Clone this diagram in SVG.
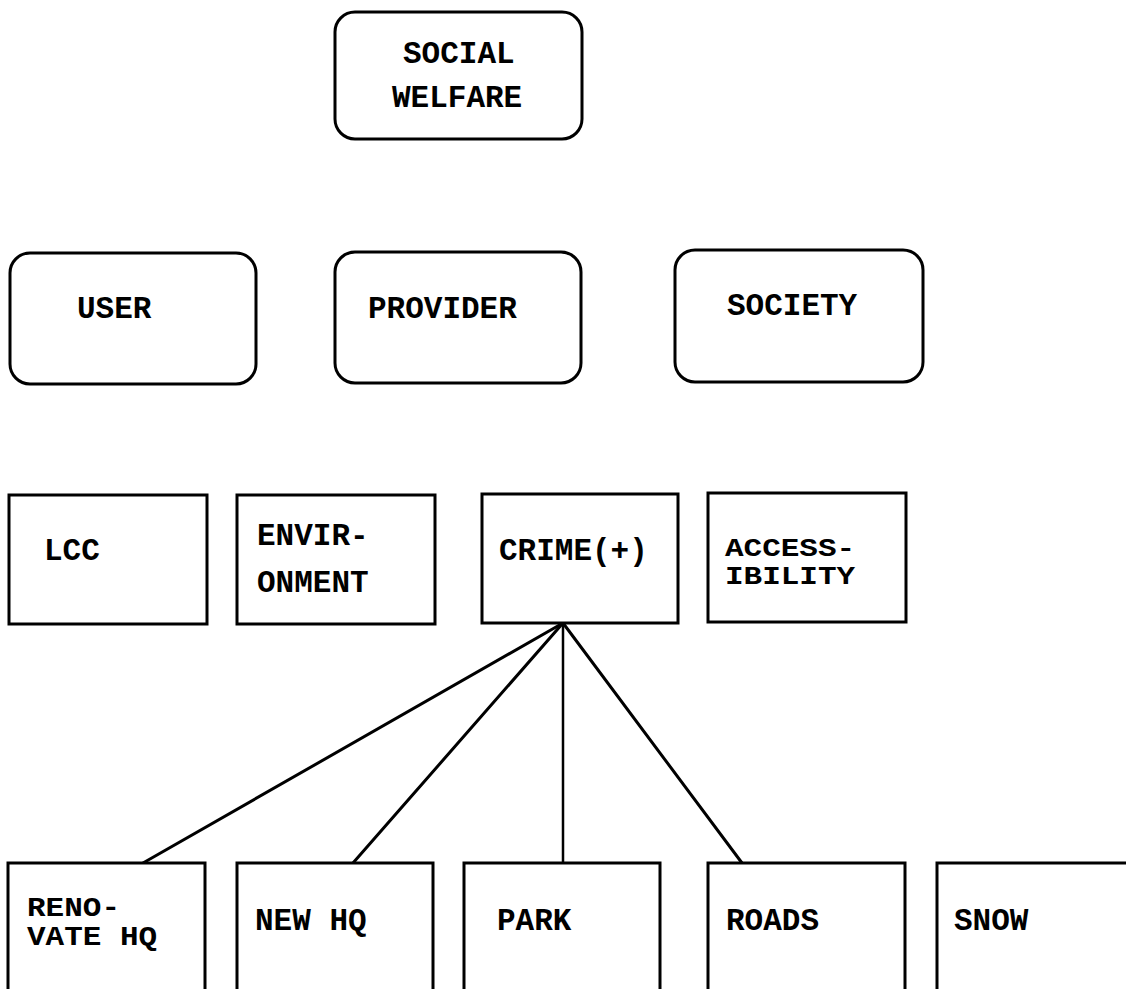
<svg xmlns="http://www.w3.org/2000/svg" width="1126" height="989" viewBox="0 0 1126 989">
  <style>
    .box { fill: #fff; stroke: #000; stroke-width: 3; }
    .lbl { font-family: "Liberation Mono", "Courier New", monospace; font-weight: bold; font-size: 31px; fill: #000; }
    .edge { stroke: #000; stroke-width: 3; fill: none; stroke-linecap: round; }
  </style>
  <rect width="1126" height="989" fill="#fff"/>

  <!-- connectors: CRIME(+) to its options -->
  <g id="connectors">
    <line class="edge" x1="563" y1="623" x2="143" y2="863"/>
    <line class="edge" x1="563" y1="623" x2="353" y2="863"/>
    <line class="edge" x1="563" y1="623" x2="563" y2="863" style="stroke-width:2.5"/>
    <line class="edge" x1="563" y1="623" x2="742" y2="863"/>
  </g>

  <!-- top goal -->
  <g id="social-welfare">
    <rect class="box" x="335" y="12" width="247" height="127" rx="20"/>
    <text class="lbl" x="403" y="63">SOCIAL</text>
    <text class="lbl" x="392" y="107">WELFARE</text>
  </g>

  <!-- stakeholder level -->
  <g id="user">
    <rect class="box" x="10" y="253" width="246" height="131" rx="20"/>
    <text class="lbl" x="77" y="318">USER</text>
  </g>
  <g id="provider">
    <rect class="box" x="335" y="252" width="246" height="131" rx="20"/>
    <text class="lbl" x="368" y="318">PROVIDER</text>
  </g>
  <g id="society">
    <rect class="box" x="675" y="250" width="248" height="132" rx="20"/>
    <text class="lbl" x="727" y="315">SOCIETY</text>
  </g>

  <!-- criteria level -->
  <g id="lcc">
    <rect class="box" x="9" y="495" width="198" height="129"/>
    <text class="lbl" x="44" y="560">LCC</text>
  </g>
  <g id="environment">
    <rect class="box" x="237" y="495" width="198" height="129"/>
    <text class="lbl" x="257" y="545">ENVIR-</text>
    <text class="lbl" x="257" y="592">ONMENT</text>
  </g>
  <g id="crime">
    <rect class="box" x="482" y="494" width="196" height="129"/>
    <text class="lbl" x="499" y="560">CRIME(+)</text>
  </g>
  <g id="accessibility">
    <rect class="box" x="708" y="493" width="198" height="129"/>
    <!-- tightly set two-line label, slightly condensed vertically -->
    <text class="lbl" transform="translate(725,556) scale(1,0.82)">ACCESS-</text>
    <text class="lbl" transform="translate(725,584) scale(1,0.82)">IBILITY</text>
  </g>

  <!-- option level -->
  <g id="renovate-hq">
    <rect class="box" x="8" y="863" width="197" height="140"/>
    <text class="lbl" transform="translate(27,916) scale(1,0.88)">RENO-</text>
    <text class="lbl" transform="translate(27,945) scale(1,0.88)">VATE HQ</text>
  </g>
  <g id="new-hq">
    <rect class="box" x="237" y="863" width="196" height="140"/>
    <text class="lbl" x="255" y="930">NEW HQ</text>
  </g>
  <g id="park">
    <rect class="box" x="464" y="863" width="196" height="140"/>
    <text class="lbl" x="497" y="930">PARK</text>
  </g>
  <g id="roads">
    <rect class="box" x="708" y="863" width="197" height="140"/>
    <text class="lbl" x="726" y="930">ROADS</text>
  </g>
  <g id="snow">
    <rect class="box" x="937" y="863" width="200" height="140"/>
    <text class="lbl" x="954" y="930">SNOW</text>
  </g>
</svg>
